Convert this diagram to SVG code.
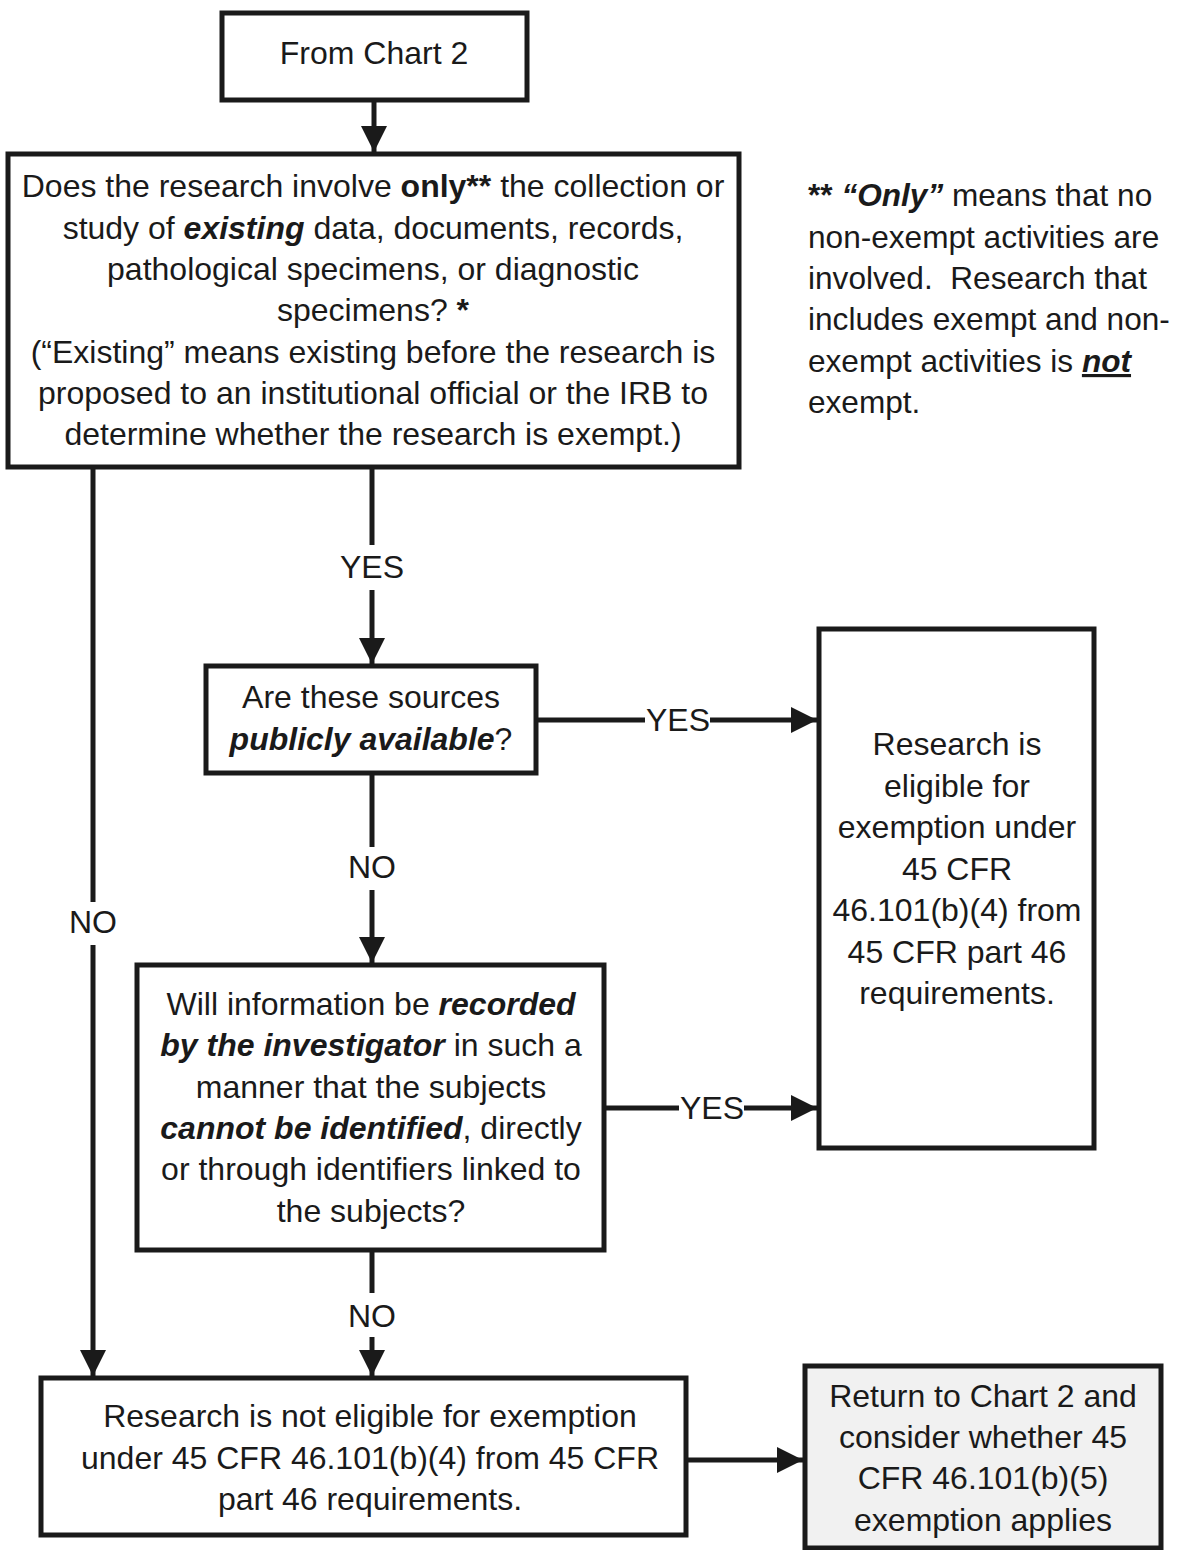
<svg xmlns="http://www.w3.org/2000/svg" width="1182" height="1550" viewBox="0 0 1182 1550">
<defs>
<style>
.box{fill:#fff;stroke:#1a1a1a;stroke-width:5}
.grey{fill:#f1f1f1}
.t{font-family:"Liberation Sans",Arial,sans-serif;font-size:32px;fill:#1a1a1a;text-anchor:middle}
.n{font-family:"Liberation Sans",Arial,sans-serif;font-size:31.6px;fill:#1a1a1a;white-space:pre}
.c{stroke:#1a1a1a;stroke-width:5;fill:none}
.b{font-weight:bold}
.bi{font-weight:bold;font-style:italic}
</style>
<marker id="ah" viewBox="0 0 10 10" refX="10" refY="5" markerWidth="5.2" markerHeight="5.2" markerUnits="strokeWidth" orient="auto">
<path d="M0,0 L10,5 L0,10 z" fill="#1a1a1a"/>
</marker>
</defs>
<rect width="1182" height="1550" fill="#fff"/>
<g id="connectors">
<line class="c" x1="374" y1="100" x2="374" y2="152" marker-end="url(#ah)"/>
<line class="c" x1="372" y1="467" x2="372" y2="545"/>
<line class="c" x1="372" y1="590" x2="372" y2="664" marker-end="url(#ah)"/>
<text class="t" x="372" y="578">YES</text>
<line class="c" x1="536" y1="720" x2="645" y2="720"/>
<line class="c" x1="710" y1="720" x2="817" y2="720" marker-end="url(#ah)"/>
<text class="t" x="678" y="731">YES</text>
<line class="c" x1="372" y1="773" x2="372" y2="847"/>
<line class="c" x1="372" y1="890" x2="372" y2="963" marker-end="url(#ah)"/>
<text class="t" x="372" y="878">NO</text>
<line class="c" x1="604" y1="1108" x2="679" y2="1108"/>
<line class="c" x1="744" y1="1108" x2="817" y2="1108" marker-end="url(#ah)"/>
<text class="t" x="712" y="1119">YES</text>
<line class="c" x1="372" y1="1250" x2="372" y2="1293"/>
<line class="c" x1="372" y1="1337" x2="372" y2="1376" marker-end="url(#ah)"/>
<text class="t" x="372" y="1327">NO</text>
<line class="c" x1="93" y1="467" x2="93" y2="902"/>
<line class="c" x1="93" y1="945" x2="93" y2="1376" marker-end="url(#ah)"/>
<text class="t" x="93" y="933">NO</text>
<line class="c" x1="686" y1="1460" x2="803" y2="1460" marker-end="url(#ah)"/>
</g>
<g id="start">
<rect class="box" x="222" y="13" width="305" height="87"/>
<text class="t" x="374" y="64">From Chart 2</text>
</g>
<g id="q1">
<rect class="box" x="8" y="154" width="731" height="313"/>
<text class="t" x="373" y="197">Does the research involve <tspan class="b">only**</tspan> the collection or</text>
<text class="t" x="373" y="239">study of <tspan class="bi">existing</tspan> data, documents, records,</text>
<text class="t" x="373" y="280">pathological specimens, or diagnostic</text>
<text class="t" x="373" y="321">specimens? <tspan class="b">*</tspan></text>
<text class="t" x="373" y="363">(“Existing” means existing before the research is</text>
<text class="t" x="373" y="404">proposed to an institutional official or the IRB to</text>
<text class="t" x="373" y="445">determine whether the research is exempt.)</text>
</g>
<g id="note">
<text class="n" x="808" y="206"><tspan class="b">** </tspan><tspan class="bi">“Only”</tspan> means that no</text>
<text class="n" x="808" y="248">non-exempt activities are</text>
<text class="n" x="808" y="289">involved.  Research that</text>
<text class="n" x="808" y="330">includes exempt and non-</text>
<text class="n" x="808" y="372">exempt activities is <tspan class="bi" text-decoration="underline">not</tspan></text>
<text class="n" x="808" y="413">exempt.</text>
</g>
<g id="q2">
<rect class="box" x="206" y="666" width="330" height="107"/>
<text class="t" x="371" y="708">Are these sources</text>
<text class="t" x="371" y="750"><tspan class="bi">publicly available</tspan>?</text>
</g>
<g id="eligible">
<rect class="box" x="819" y="629" width="275" height="519"/>
<text class="t" x="957" y="755">Research is</text>
<text class="t" x="957" y="797">eligible for</text>
<text class="t" x="957" y="838">exemption under</text>
<text class="t" x="957" y="880">45 CFR</text>
<text class="t" x="957" y="921">46.101(b)(4) from</text>
<text class="t" x="957" y="963">45 CFR part 46</text>
<text class="t" x="957" y="1004">requirements.</text>
</g>
<g id="q3">
<rect class="box" x="137" y="965" width="467" height="285"/>
<text class="t" x="371" y="1015">Will information be <tspan class="bi">recorded</tspan></text>
<text class="t" x="371" y="1056"><tspan class="bi">by the investigator</tspan> in such a</text>
<text class="t" x="371" y="1098">manner that the subjects</text>
<text class="t" x="371" y="1139"><tspan class="bi">cannot be identified</tspan>, directly</text>
<text class="t" x="371" y="1180">or through identifiers linked to</text>
<text class="t" x="371" y="1222">the subjects?</text>
</g>
<g id="noteligible">
<rect class="box" x="41" y="1378" width="645" height="157"/>
<text class="t" x="370" y="1427">Research is not eligible for exemption</text>
<text class="t" x="370" y="1469">under 45 CFR 46.101(b)(4) from 45 CFR</text>
<text class="t" x="370" y="1510">part 46 requirements.</text>
</g>
<g id="return">
<rect class="box grey" x="805" y="1366" width="356" height="182"/>
<text class="t" x="983" y="1407">Return to Chart 2 and</text>
<text class="t" x="983" y="1448">consider whether 45</text>
<text class="t" x="983" y="1489">CFR 46.101(b)(5)</text>
<text class="t" x="983" y="1531">exemption applies</text>
</g>
</svg>
